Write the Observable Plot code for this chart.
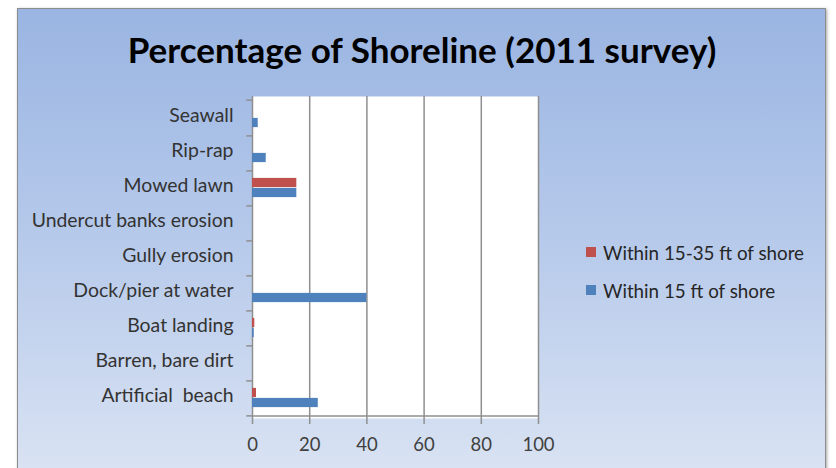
<!DOCTYPE html>
<html>
<head>
<meta charset="utf-8">
<script src="https://cdn.jsdelivr.net/npm/d3@7"></script>
<script src="https://cdn.jsdelivr.net/npm/@observablehq/plot@0.6"></script>
<style>
  html, body { margin: 0; padding: 0; background: #ffffff; }
  body { width: 836px; height: 468px; position: relative; overflow: hidden; font-family: Lato, "Open Sans", sans-serif; }
  #frame { position: absolute; left: 17px; top: 8px; width: 809px; height: 480px;
    background: linear-gradient(to bottom, #9ab5e2 0%, #b4c8ea 45%, #dbe4f3 100%);
    border: 1.5px solid #8c8c8c; box-shadow: 1px 1px 3px rgba(0,0,0,0.35); box-sizing: border-box; }
  #title { position: absolute; left: 17px; width: 810px; top: 25px; text-align: center;
    font-weight: bold; font-size: 35px; color: #000; line-height: 48px; }
  #chart { position: absolute; left: 0; top: 0; }
  #legend { position: absolute; left: 586px; top: 233px; font-size: 18.8px; color: #262626; }
  #legend .item { display: flex; align-items: center; height: 38px; }
  #legend .sw { width: 10px; height: 10px; margin-right: 7px; }
</style>
</head>
<body>
<div id="frame"></div>
<div id="title">Percentage of Shoreline (2011 survey)</div>
<div id="chart"></div>
<div id="legend"></div>
<script>
const categories = ["Seawall", "Rip-rap", "Mowed lawn", "Undercut banks erosion", "Gully erosion", "Dock/pier at water", "Boat landing", "Barren, bare dirt", "Artificial  beach"];
const within15 = [2, 4.8, 15.5, 0, 0, 40, 0.6, 0, 23];
const within15to35 = [0, 0, 15.5, 0, 0, 0, 0.8, 0, 1.4];
const seriesNames = ["Within 15-35 ft of shore", "Within 15 ft of shore"];
const seriesColors = ["#c0504d", "#4f81bd"];
const xTicks = [0, 20, 40, 60, 80, 100];

const W = 836, H = 468;
const mTop = 96, mBottom = 50, mLeft = 252, mRight = 298;
const band = (H - mTop - mBottom) / categories.length;
const barH = 10;

const rows15 = categories.map((c, i) => ({category: c, value: within15[i]}));
const rows1535 = categories.map((c, i) => ({category: c, value: within15to35[i]}));

const chart = Plot.plot({
  width: W,
  height: H,
  marginTop: mTop,
  marginBottom: mBottom,
  marginLeft: mLeft,
  marginRight: mRight,
  style: {background: "transparent", fontFamily: "Lato, 'Open Sans', sans-serif"},
  x: {domain: [0, 100]},
  y: {domain: categories, padding: 0},
  marks: [
    Plot.frame({fill: "white", stroke: null}),
    Plot.ruleX(xTicks, {stroke: "#8f8f8f", strokeWidth: 1.5}),
    Plot.ruleY([categories[categories.length - 1]], {x1: 0, x2: 100, dy: band / 2, stroke: "#8f8f8f", strokeWidth: 1.5}),
    Plot.ruleY(categories, {x1: -2, x2: 0, dy: band / 2, stroke: "#8f8f8f", strokeWidth: 1.5}),
    Plot.ruleY([categories[0]], {x1: -2, x2: 0, dy: -band / 2, stroke: "#8f8f8f", strokeWidth: 1.5}),
    Plot.barX(rows1535, {x: "value", y: "category", fill: seriesColors[0], insetTop: band / 2 - barH, insetBottom: band / 2}),
    Plot.barX(rows15, {x: "value", y: "category", fill: seriesColors[1], insetTop: band / 2, insetBottom: band / 2 - barH}),
    Plot.axisX({ticks: xTicks, tickSize: 6, tickPadding: 13, stroke: "#8f8f8f", strokeWidth: 1.5, fontSize: 18.5, color: "#404040", label: null}),
    Plot.axisY({tickSize: 0, tickPadding: 19, fontSize: 19.4, color: "#333333", label: null, dy: -2})
  ]
});
chart.querySelectorAll("text").forEach(t => { t.style.whiteSpace = "pre"; });
document.getElementById("chart").appendChild(chart);

const legend = document.getElementById("legend");
seriesNames.forEach((name, i) => {
  const item = document.createElement("div");
  item.className = "item";
  const sw = document.createElement("span");
  sw.className = "sw";
  sw.style.background = seriesColors[i];
  const label = document.createElement("span");
  label.textContent = name;
  item.appendChild(sw);
  item.appendChild(label);
  legend.appendChild(item);
});
</script>
</body>
</html>
